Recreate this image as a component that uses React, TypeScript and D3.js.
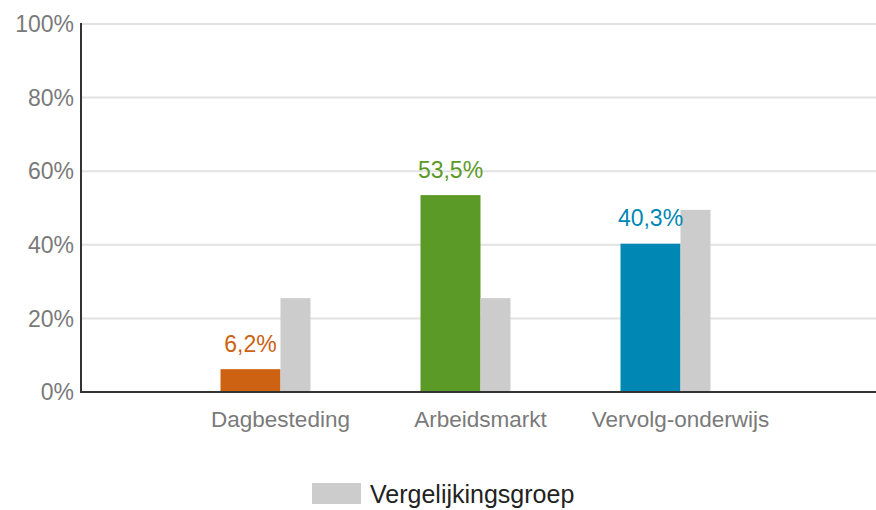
import React, { useEffect, useRef } from 'react'
import * as d3 from 'd3'

const categories = ['Dagbesteding', 'Arbeidsmarkt', 'Vervolg-onderwijs']
const mainValues = [6.2, 53.5, 40.3]
const mainLabels = ['6,2%', '53,5%', '40,3%']
const mainColors = ['#cc6212', '#5c9a28', '#0087b4']
const compareValues = [25.5, 25.5, 49.5]
const yTicks = [0, 20, 40, 60, 80, 100]
const legendLabel = 'Vergelijkingsgroep'

const W = 876
const H = 510

const App = () => {
  const ref = useRef<SVGSVGElement>(null)

  useEffect(() => {
    const root = d3.select(ref.current)
    root.selectAll('*').remove()
    const font = '"Liberation Sans", Arial, sans-serif'

    const x = d3.scalePoint<string>().domain(categories).range([80.5, 880.5]).padding(1)
    const y = d3.scaleLinear().domain([0, 100]).range([392, 24])
    const mainW = 60
    const compW = 30

    // gridlines
    root
      .append('g')
      .selectAll('line')
      .data(yTicks.filter(t => t > 0))
      .enter()
      .append('line')
      .attr('x1', 81)
      .attr('x2', W)
      .attr('y1', d => y(d))
      .attr('y2', d => y(d))
      .attr('stroke', '#e2e2e2')
      .attr('stroke-width', 2)

    // tick labels
    root
      .append('g')
      .selectAll('text')
      .data(yTicks)
      .enter()
      .append('text')
      .text(d => `${d}%`)
      .attr('x', 74)
      .attr('y', d => y(d))
      .attr('dy', '0.36em')
      .attr('text-anchor', 'end')
      .attr('font-family', font)
      .attr('font-size', '23px')
      .attr('fill', '#7a7a7a')

    // main bars
    root
      .append('g')
      .selectAll('rect')
      .data(categories)
      .enter()
      .append('rect')
      .attr('x', d => (x(d) as number) - mainW)
      .attr('width', mainW)
      .attr('y', (_, i) => y(mainValues[i]))
      .attr('height', (_, i) => y(0) - y(mainValues[i]))
      .attr('fill', (_, i) => mainColors[i])

    // comparison bars
    root
      .append('g')
      .selectAll('rect')
      .data(categories)
      .enter()
      .append('rect')
      .attr('x', d => x(d) as number)
      .attr('width', compW)
      .attr('y', (_, i) => y(compareValues[i]))
      .attr('height', (_, i) => y(0) - y(compareValues[i]))
      .attr('fill', '#cccccc')

    // value labels
    root
      .append('g')
      .selectAll('text')
      .data(categories)
      .enter()
      .append('text')
      .text((_, i) => mainLabels[i])
      .attr('x', d => (x(d) as number) - mainW / 2)
      .attr('y', (_, i) => y(mainValues[i]) - 17.5)
      .attr('text-anchor', 'middle')
      .attr('font-family', font)
      .attr('font-size', '23px')
      .attr('fill', (_, i) => mainColors[i])

    // axes
    root
      .append('line')
      .attr('x1', 81)
      .attr('x2', 81)
      .attr('y1', y(100) - 1)
      .attr('y2', y(0) + 1)
      .attr('stroke', '#333')
      .attr('stroke-width', 2)
    root
      .append('line')
      .attr('x1', 80)
      .attr('x2', W)
      .attr('y1', y(0))
      .attr('y2', y(0))
      .attr('stroke', '#333')
      .attr('stroke-width', 2)

    // category labels
    root
      .append('g')
      .selectAll('text')
      .data(categories)
      .enter()
      .append('text')
      .text(d => d)
      .attr('x', d => x(d) as number)
      .attr('y', 427)
      .attr('text-anchor', 'middle')
      .attr('font-family', font)
      .attr('font-size', '22.5px')
      .attr('fill', '#7a7a7a')

    // legend
    root
      .append('rect')
      .attr('x', 312)
      .attr('y', 483)
      .attr('width', 49)
      .attr('height', 21)
      .attr('fill', '#cccccc')
    root
      .append('text')
      .text(legendLabel)
      .attr('x', 370)
      .attr('y', 503)
      .attr('font-family', font)
      .attr('font-size', '25px')
      .attr('fill', '#222')
  }, [])

  return (
    <svg
      ref={ref}
      width={W}
      height={H}
      style={{ position: 'absolute', left: 0, top: 0, background: '#fff' }}
    />
  )
}

export default App
